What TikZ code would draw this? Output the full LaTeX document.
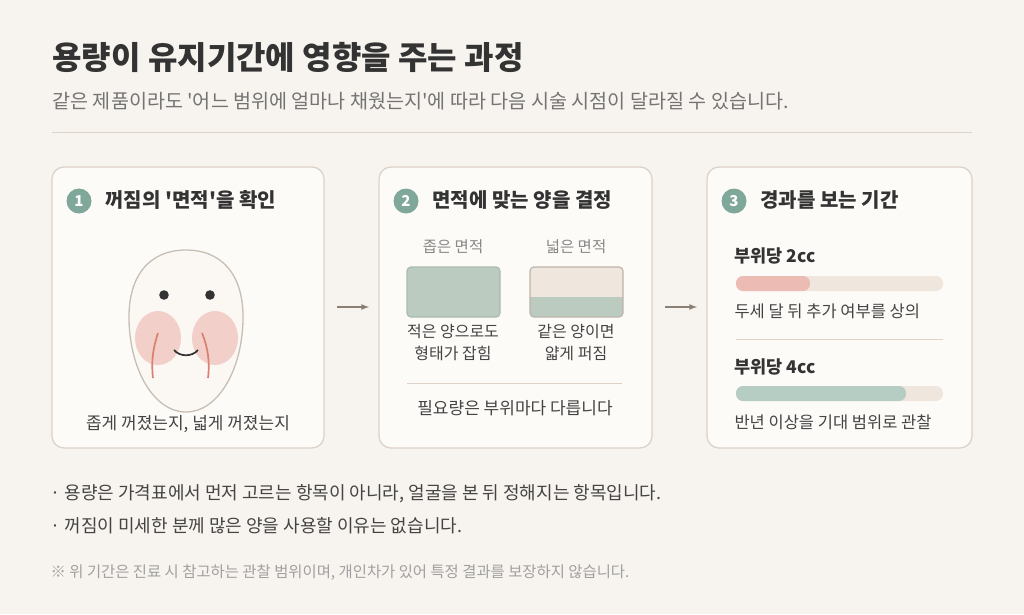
\documentclass[tikz,border=0pt]{standalone}
\usepackage{fontspec}
\setmainfont{Noto Sans CJK KR}[Ligatures=TeXOff]
\begin{document}
\begin{tikzpicture}[x=1pt,y=-1pt,
 panel/.style={draw=bd,fill=pan,line width=1.3pt,rounded corners=12pt},
 num/.style={circle,fill=teal1,text=white,minimum size=25pt,inner sep=0pt,font=\fontsize{15}{15}\selectfont\bfseries},
 head/.style={anchor=west,text=ink,font=\fontsize{20}{20}\selectfont\bfseries},
 body/.style={text=ink2,font=\fontsize{16.5}{22}\selectfont},
 small/.style={text=gray1,font=\fontsize{15.5}{16}\selectfont},
 arr/.style={draw=arc,line width=1.6pt,-latex},
 sep/.style={draw=bd,line width=1pt}]
\definecolor{bg}{HTML}{F7F3EE}\definecolor{pan}{HTML}{FDFBF8}\definecolor{bd}{HTML}{DDD3C8}
\definecolor{teal1}{HTML}{7FA89A}\definecolor{ink}{HTML}{333333}\definecolor{ink2}{HTML}{444444}
\definecolor{gray1}{HTML}{888888}\definecolor{arc}{HTML}{8A7F75}\definecolor{grn}{HTML}{BCCBC0}
\definecolor{grnb}{HTML}{A9BBAE}\definecolor{beige}{HTML}{EFE6DD}\definecolor{pink}{HTML}{ECBCB4}
\definecolor{cheek}{HTML}{F2CFC8}\definecolor{redl}{HTML}{D98070}\definecolor{bar2}{HTML}{B5CDC2}
\fill[bg] (0,0) rectangle (1024,614);
\useasboundingbox (0,0) rectangle (1024,614);
\node[anchor=west,text=ink,font=\fontsize{32}{32}\selectfont\bfseries] (title) at (49,57) {용량이 유지기간에 영향을 주는 과정};
\node[anchor=west,text=gray1!85!black,font=\fontsize{19.6}{20}\selectfont] (sub) at (49,101) {같은 제품이라도 '어느 범위에 얼마나 채웠는지'에 따라 다음 시술 시점이 달라질 수 있습니다.};
\draw[sep] (52,132) -- (972,132);
% panels
\draw[panel] (52,167) rectangle (324,448);
\draw[panel] (379,167) rectangle (652,448);
\draw[panel] (707,167) rectangle (972,448);
\node[num] (n1) at (79,201) {1}; \node[head] (h1) at (102,200) {꺼짐의 '면적'을 확인};
\node[num] (n2) at (406,201) {2}; \node[head] (h2) at (429,200) {면적에 맞는 양을 결정};
\node[num] (n3) at (734,201) {3}; \node[head] (h3) at (757,200) {경과를 보는 기간};
% face
\draw[fill=pan!60!bg,draw=bd!90!black,line width=1.3pt] (186,250) .. controls (222,250) and (244,275) .. (243,320) .. controls (242,370) and (218,412) .. (186,412) .. controls (154,412) and (130,370) .. (129,320) .. controls (128,275) and (150,250) .. (186,250) -- cycle;
\fill[cheek] (158,338) ellipse (23 and 27);
\fill[cheek] (215,338) ellipse (23 and 27);
\fill[ink] (164,295) circle (4.8); \fill[ink] (210,295) circle (4.8);
\draw[ink,line width=1.7pt] (174,350) .. controls (180,357) and (192,357) .. (198,350);
\draw[redl,line width=1.7pt] (158,333) .. controls (153,348) and (151,362) .. (153,378);
\draw[redl,line width=1.7pt] (202,333) .. controls (208,348) and (210,362) .. (208,378);
\node[body,font=\fontsize{17}{17}\selectfont] (c1) at (188,424) {좁게 꺼졌는지, 넓게 꺼졌는지};
% arrows
\coordinate (a1s) at (337,307); \coordinate (a1e) at (369,307);
\coordinate (a2s) at (665,307); \coordinate (a2e) at (697,307);
\draw[arr] (a1s) -- (a1e); \draw[arr] (a2s) -- (a2e);
% panel 2
\node[small] (l1) at (453,247) {좁은 면적};
\node[small] (l2) at (576,247) {넓은 면적};
\draw[fill=grn,draw=grnb,line width=1.2pt,rounded corners=4pt] (407,267) rectangle (500,317);
\begin{scope}
\clip[rounded corners=4pt] (530,267) rectangle (623,317);
\fill[beige] (530,267) rectangle (623,297);
\fill[grn] (530,297) rectangle (623,317);
\end{scope}
\draw[draw=bd!85!black,line width=1.2pt,rounded corners=4pt] (530,267) rectangle (623,317);
\node[body,align=center,font=\fontsize{16}{22}\selectfont] (t1) at (453,342) {적은 양으로도\\형태가 잡힘};
\node[body,align=center,font=\fontsize{16}{22}\selectfont] (t2) at (576,342) {같은 양이면\\얇게 퍼짐};
\draw[sep] (407,383) -- (622,383);
\node[body,font=\fontsize{17}{17}\selectfont] (t3) at (515,408) {필요량은 부위마다 다릅니다};
% panel 3
\node[head,font=\fontsize{17.5}{18}\selectfont\bfseries] (p1) at (731,256) {부위당 2cc};
\fill[beige,rounded corners=7pt] (736,276) rectangle (943,291);
\fill[pink,rounded corners=7pt] (736,276) rectangle (810,291);
\node[body,anchor=west] (d1) at (731,311) {두세 달 뒤 추가 여부를 상의};
\draw[sep] (736,339) -- (943,339);
\node[head,font=\fontsize{17.5}{18}\selectfont\bfseries] (p2) at (731,367) {부위당 4cc};
\fill[beige,rounded corners=7pt] (736,386) rectangle (943,401);
\fill[bar2,rounded corners=7pt] (736,386) rectangle (906,401);
\node[body,anchor=west] (d2) at (731,422) {반년 이상을 기대 범위로 관찰};
% bullets
\node[body,anchor=west,font=\fontsize{18}{18}\selectfont] (b1) at (47,494) {· 용량은 가격표에서 먼저 고르는 항목이 아니라, 얼굴을 본 뒤 정해지는 항목입니다.};
\node[body,anchor=west,font=\fontsize{18}{18}\selectfont] (b2) at (47,526) {· 꺼짐이 미세한 분께 많은 양을 사용할 이유는 없습니다.};
\node[anchor=west,text=gray1!80,font=\fontsize{15.4}{15}\selectfont] (note) at (47,573) {※ 위 기간은 진료 시 참고하는 관찰 범위이며, 개인차가 있어 특정 결과를 보장하지 않습니다.};
\end{tikzpicture}
\end{document}
